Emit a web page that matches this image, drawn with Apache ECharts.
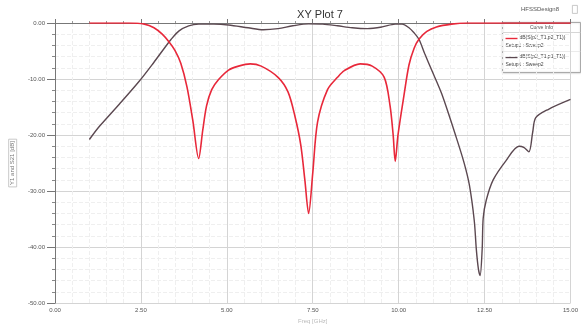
<!DOCTYPE html>
<html>
<head>
<meta charset="utf-8">
<script src="https://cdn.jsdelivr.net/npm/echarts@6/dist/echarts.min.js"></script>
<style>html,body{margin:0;padding:0;background:#fff;}#c{width:581px;height:329px;}</style>
</head>
<body>
<div id="c"></div>
<script>
// Frequency [GHz] / dB pairs
const s11Freq = [1.0, 2.16, 2.6, 2.88, 3.12, 3.32, 3.49, 3.66, 3.84, 4.01, 4.18, 4.3, 4.41, 4.56, 4.76, 5.05, 5.34, 5.68, 6.0, 6.49, 6.78, 6.98, 7.15, 7.27, 7.38, 7.5, 7.64, 7.93, 8.22, 8.42, 8.88, 9.23, 9.58, 9.75, 9.84, 9.9, 9.98, 10.15, 10.3, 10.45, 10.59, 10.82, 11.1, 11.54, 12.0, 12.84, 15.0];
const s11dB   = [0, 0, -0.2, -0.85, -2.0, -3.4, -4.9, -7.2, -11.4, -17.4, -24.2, -19.1, -14.8, -11.9, -10.1, -8.4, -7.7, -7.3, -7.7, -9.7, -12.3, -16.6, -21.7, -28.0, -34.0, -26.8, -17.7, -11.9, -9.7, -8.5, -7.3, -7.7, -9.7, -14.8, -20.0, -24.7, -20.0, -13.1, -7.5, -4.5, -2.9, -1.5, -0.7, -0.2, 0, 0, 0];
const s21Freq = [1.0, 1.30, 1.87, 2.45, 2.88, 3.17, 3.38, 3.61, 3.89, 4.18, 4.62, 5.05, 5.62, 6.06, 6.49, 6.92, 7.38, 7.79, 8.22, 8.65, 9.09, 9.52, 9.9, 10.1, 10.3, 10.44, 10.59, 10.76, 10.96, 11.25, 11.68, 11.91, 12.06, 12.2, 12.26, 12.32, 12.37, 12.43, 12.46, 12.55, 12.75, 13.12, 13.5, 13.64, 13.79, 13.9, 13.99, 14.36, 15.0];
const s21dB   = [-20.8, -18.4, -14.5, -10.4, -7.0, -4.6, -2.9, -1.4, -0.5, -0.2, -0.2, -0.35, -0.85, -1.2, -1.0, -0.5, -0.15, -0.2, -0.5, -0.85, -1.0, -0.7, -0.2, -0.2, -0.85, -1.7, -2.9, -5.5, -8.4, -12.6, -20.5, -25.1, -29.0, -35.3, -40.4, -43.9, -45.1, -40.4, -34.8, -31.6, -28.0, -24.6, -22.0, -22.2, -23.0, -19.5, -16.9, -15.4, -13.65];
const seriesNames = ['dB(S(p2_T1,p2_T1))', 'dB(S(p2_T1,p1_T1))'];
const setupText = 'Setup1 : Sweep2';

const pair = (xs, ys) => xs.map((x, i) => [x, ys[i]]);
const chart = echarts.init(document.getElementById('c'));
const lblFont = {fontFamily: 'Liberation Sans', fontSize: 6, color: '#555'};
chart.setOption({
  animation: false,
  backgroundColor: '#fff',
  grid: {left: 55, right: 6, top: 23, bottom: 13},
  title: {text: 'XY Plot 7', left: 315, top: 4, textAlign: 'center',
    textStyle: {fontFamily: 'Liberation Sans', fontSize: 11, fontWeight: 'normal', color: '#333'}},
  xAxis: {
    type: 'value', min: 0, max: 15, interval: 2.5,
    name: 'Freq [GHz]', nameLocation: 'middle', nameGap: 12,
    nameTextStyle: {fontFamily: 'Liberation Sans', fontSize: 6, color: '#bbb'},
    axisLine: {lineStyle: {color: '#777', width: 1}},
    axisTick: {show: true, length: 4, inside: true, lineStyle: {color: '#777'}},
    minorTick: {show: true, splitNumber: 5, length: 2, lineStyle: {color: '#999'}},
    axisLabel: Object.assign({formatter: v => v.toFixed(2), margin: 4}, lblFont),
    splitLine: {show: true, lineStyle: {color: '#d4d4d4', width: 1}},
    minorSplitLine: {show: true, lineStyle: {color: '#efefef', type: 'dashed', width: 1}}
  },
  yAxis: {
    type: 'value', min: -50, max: 0, interval: 10,
    name: 'Y1 and S21 [dB]', nameLocation: 'middle', nameGap: 27, nameRotate: 90,
    nameTextStyle: {fontFamily: 'Liberation Sans', fontSize: 6, color: '#777',
      borderColor: '#bbb', borderWidth: 0.8, padding: [1, 2]},
    axisLine: {show: true, lineStyle: {color: '#777', width: 1}},
    axisTick: {show: true, length: 8, lineStyle: {color: '#777'}},
    minorTick: {show: true, splitNumber: 5, length: 3, lineStyle: {color: '#888'}},
    axisLabel: Object.assign({formatter: v => v.toFixed(2), margin: 10}, lblFont),
    splitLine: {show: true, lineStyle: {color: '#d4d4d4', width: 1}},
    minorSplitLine: {show: true, lineStyle: {color: '#efefef', type: 'dashed', width: 1}}
  },
  series: [
    {name: seriesNames[0], type: 'line', data: pair(s11Freq, s11dB), smooth: 0.3, symbol: 'none',
      lineStyle: {color: '#e8283a', width: 1.6}, z: 3},
    {name: seriesNames[1], type: 'line', data: pair(s21Freq, s21dB), smooth: 0.3, symbol: 'none',
      lineStyle: {color: '#5b4850', width: 1.4}, z: 2}
  ],
  graphic: [
    {type: 'text', left: 521, top: 6, z: 10, style: {text: 'HFSSDesign8', font: '6px Liberation Sans', fill: '#555'}},
    {type: 'rect', left: 572, top: 5, z: 10, shape: {width: 5, height: 8}, style: {fill: '#fff', stroke: '#bbb', lineWidth: 0.8}},
    {type: 'group', left: 500, top: 22, z: 20, children: [
      {type: 'rect', shape: {x: 0, y: 0, width: 78, height: 50}, style: {fill: '#fff', stroke: '#aaa', lineWidth: 1, shadowBlur: 2, shadowColor: 'rgba(0,0,0,0.2)'}},
      {type: 'line', shape: {x1: 0, y1: 10, x2: 78, y2: 10}, style: {stroke: '#ccc', lineWidth: 0.8}},
      {type: 'text', x: 39, y: 3, style: {text: 'Curve Info', font: '5px Liberation Sans', fill: '#555', textAlign: 'center'}},
      {type: 'line', shape: {x1: 3, y1: 16, x2: 15, y2: 16}, style: {stroke: '#e8283a', lineWidth: 1.4}},
      {type: 'text', x: 17, y: 13, style: {text: seriesNames[0], font: '5px Liberation Sans', fill: '#444'}},
      {type: 'text', x: 3, y: 21, style: {text: setupText, font: '5px Liberation Sans', fill: '#444'}},
      {type: 'line', shape: {x1: 0, y1: 29, x2: 78, y2: 29}, style: {stroke: '#ddd', lineWidth: 0.6}},
      {type: 'line', shape: {x1: 3, y1: 35, x2: 15, y2: 35}, style: {stroke: '#5b4850', lineWidth: 1.4}},
      {type: 'text', x: 17, y: 32, style: {text: seriesNames[1], font: '5px Liberation Sans', fill: '#444'}},
      {type: 'text', x: 3, y: 40, style: {text: setupText, font: '5px Liberation Sans', fill: '#444'}}
    ]}
  ]
});
</script>
</body>
</html>
